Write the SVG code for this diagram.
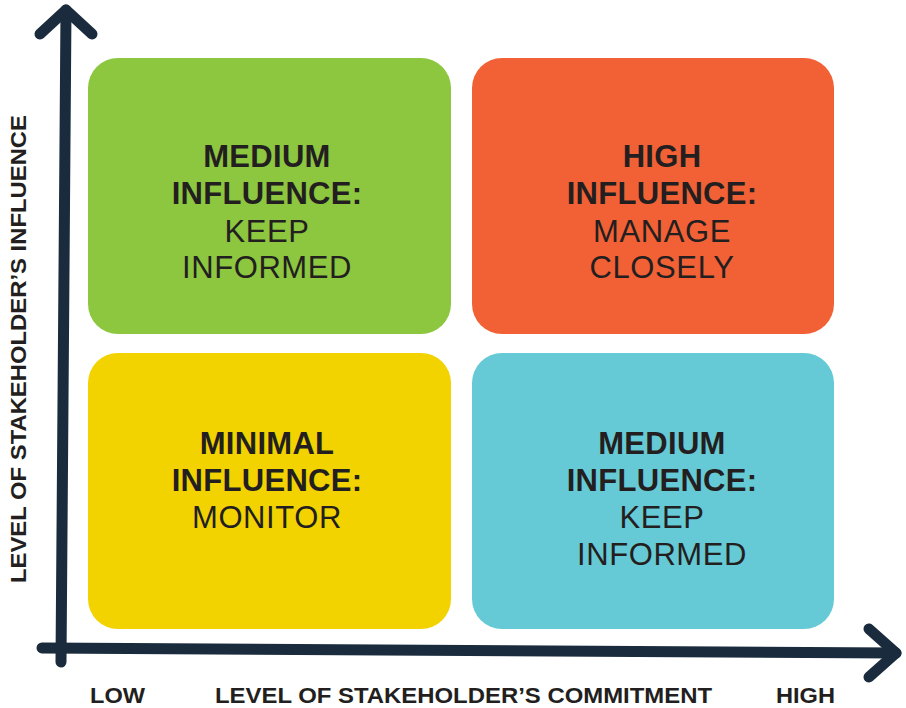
<svg xmlns="http://www.w3.org/2000/svg" width="906" height="708" viewBox="0 0 906 708">
<style>
.axis{fill:none;stroke:#1A2B3D;stroke-width:11;stroke-linecap:round;stroke-linejoin:round}
.t{font-family:"Liberation Sans",Arial,sans-serif;font-size:31px;fill:#231F20;text-anchor:middle;letter-spacing:0.6px}
.b{font-weight:bold;letter-spacing:0.3px}
.lab{font-family:"Liberation Sans",Arial,sans-serif;font-size:22.5px;font-weight:bold;fill:#231F20}
</style>
<rect width="906" height="708" fill="#ffffff"/>
<g id="box-green">
<rect x="88" y="58" width="363" height="276" rx="30" fill="#8DC63F"/>
<text class="t b" x="267" y="167">MEDIUM</text>
<text class="t b" x="267" y="204">INFLUENCE:</text>
<text class="t" x="267" y="242">KEEP</text>
<text class="t" x="267" y="278">INFORMED</text>
</g>
<g id="box-orange">
<rect x="472" y="58" width="362" height="276" rx="30" fill="#F26135"/>
<text class="t b" x="662" y="167">HIGH</text>
<text class="t b" x="662" y="204">INFLUENCE:</text>
<text class="t" x="662" y="242">MANAGE</text>
<text class="t" x="662" y="278">CLOSELY</text>
</g>
<g id="box-yellow">
<rect x="88" y="353" width="363" height="276" rx="30" fill="#F2D300"/>
<text class="t b" x="267" y="454">MINIMAL</text>
<text class="t b" x="267" y="491">INFLUENCE:</text>
<text class="t" x="267" y="528">MONITOR</text>
</g>
<g id="box-blue">
<rect x="472" y="353" width="362" height="276" rx="30" fill="#66CAD6"/>
<text class="t b" x="662" y="454">MEDIUM</text>
<text class="t b" x="662" y="491">INFLUENCE:</text>
<text class="t" x="662" y="528">KEEP</text>
<text class="t" x="662" y="565">INFORMED</text>
</g>
<g id="connectors">
<polyline class="axis" points="61,662 66,10"/>
<polyline class="axis" points="40,34 66,10 92,34"/>
<polyline class="axis" points="42,648 896,653"/>
<polyline class="axis" points="869,629 896,653 869,677"/>
</g>
<g id="labels">
<text class="lab" transform="translate(26,349) rotate(-90)" text-anchor="middle" textLength="468" lengthAdjust="spacingAndGlyphs">LEVEL OF STAKEHOLDER’S INFLUENCE</text>
<text class="lab" x="90" y="703" textLength="55" lengthAdjust="spacingAndGlyphs">LOW</text>
<text class="lab" x="215" y="703" textLength="497" lengthAdjust="spacingAndGlyphs">LEVEL OF STAKEHOLDER’S COMMITMENT</text>
<text class="lab" x="776" y="703" textLength="59" lengthAdjust="spacingAndGlyphs">HIGH</text>
</g>
</svg>
